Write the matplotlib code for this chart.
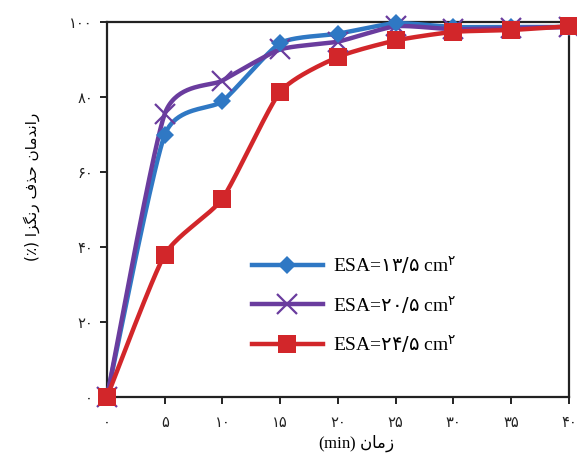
import numpy as np
import matplotlib
matplotlib.use("Agg")
import matplotlib.pyplot as plt
from matplotlib.lines import Line2D

# ---- data ----
time_min = [0, 5, 10, 15, 20, 25, 30, 35, 40]
esa_13_5 = [0, 70, 79, 94.5, 97, 99.8, 98.8, 98.8, 98.8]
esa_20_5 = [0, 75.6, 84.5, 92.8, 94.9, 99, 98.2, 98.5, 98.8]
esa_24_5 = [0, 38, 53, 81.5, 90.8, 95.2, 97.5, 98, 99]

x_ticks = [0, 5, 10, 15, 20, 25, 30, 35, 40]
y_ticks = [0, 20, 40, 60, 80, 100]

series_areas = ["۱۳/۵", "۲۰/۵", "۲۴/۵"]

# ---- minimal Persian shaping (presentation forms) ----
FORMS = {  # isolated, final, initial, medial
    "ا": ("\uFE8D", "\uFE8E", None, None),
    "د": ("\uFEA9", "\uFEAA", None, None),
    "ذ": ("\uFEAB", "\uFEAC", None, None),
    "ر": ("\uFEAD", "\uFEAE", None, None),
    "ز": ("\uFEAF", "\uFEB0", None, None),
    "ح": ("\uFEA1", "\uFEA2", "\uFEA3", "\uFEA4"),
    "ف": ("\uFED1", "\uFED2", "\uFED3", "\uFED4"),
    "م": ("\uFEE1", "\uFEE2", "\uFEE3", "\uFEE4"),
    "ن": ("\uFEE5", "\uFEE6", "\uFEE7", "\uFEE8"),
    "گ": ("\uFB92", "\uFB93", "\uFB94", "\uFB95"),
}


def shape_rtl(text):
    out = []
    chars = list(text)
    for i, c in enumerate(chars):
        if c not in FORMS:
            out.append(c)
            continue
        prev = chars[i - 1] if i > 0 else None
        nxt = chars[i + 1] if i + 1 < len(chars) else None
        joins_prev = prev in FORMS and FORMS[prev][2] is not None
        joins_next = nxt in FORMS and FORMS[c][2] is not None
        iso, fin, ini, med = FORMS[c]
        if joins_prev and joins_next:
            out.append(med)
        elif joins_prev:
            out.append(fin)
        elif joins_next:
            out.append(ini)
        else:
            out.append(iso)
    return "".join(reversed(out))


def fa_digits(n):
    return str(n).translate(str.maketrans("0123456789", "۰۱۲۳۴۵۶۷۸۹"))


def smooth(x, y, k=0.1, n=40):
    """Cubic Bezier segments through the points (smoothed line)."""
    p = np.column_stack([x, y]).astype(float)
    p_ext = np.vstack([p[0], p, p[-1]])
    t = np.linspace(0, 1, n)[:, None]
    pts = []
    for i in range(1, len(p_ext) - 2):
        p0, p1, p2, p3 = p_ext[i - 1], p_ext[i], p_ext[i + 1], p_ext[i + 2]
        c1 = p1 + (p2 - p0) * k
        c2 = p2 - (p3 - p1) * k
        seg = (1 - t) ** 3 * p1 + 3 * (1 - t) ** 2 * t * c1 \
            + 3 * (1 - t) * t ** 2 * c2 + t ** 3 * p2
        pts.append(seg if i == 1 else seg[1:])
    pts = np.vstack(pts)
    return pts[:, 0], pts[:, 1]


plt.rcParams["font.family"] = ["DejaVu Sans"]
plt.rcParams["mathtext.fontset"] = "custom"
plt.rcParams["mathtext.rm"] = "Liberation Serif"
plt.rcParams["mathtext.it"] = "Liberation Serif"
plt.rcParams["mathtext.sf"] = "DejaVu Sans"

fig = plt.figure(figsize=(5.77, 4.61), dpi=100)
ax = fig.add_axes([0.1854, 0.1388, 0.8007, 0.8124])

blue = "#2F78C4"
purple = "#6A3C9E"
red = "#D2262A"

styles = [
    (esa_13_5, blue, dict(marker="D", markersize=9.5, markeredgewidth=0), 5),
    (esa_20_5, purple, dict(marker="x", markersize=14, markeredgewidth=1.6), 4),
    (esa_24_5, red, dict(marker="s", markersize=13, markeredgewidth=0), 6),
]

handles = []
for vals, col, mk, z in styles:
    sx, sy = smooth(time_min, vals)
    ax.plot(sx, sy, color=col, lw=3.2, clip_on=False, solid_capstyle="round", zorder=3)
    ax.plot(time_min, vals, linestyle="none", color=col, clip_on=False, zorder=z, **mk)
    handles.append(Line2D([], [], color=col, lw=3.2, **mk))

ax.set_xlim(0, 40)
ax.set_ylim(0, 100)
ax.set_xticks(x_ticks)
ax.set_yticks(y_ticks)
ax.set_xticklabels([fa_digits(v) for v in x_ticks], fontsize=10.5)
ax.set_yticklabels([fa_digits(v) for v in y_ticks], fontsize=10.5)
ax.tick_params(direction="out", length=5, width=1.4, colors="#222222")
ax.tick_params(axis="x", pad=8)
ax.tick_params(axis="y", pad=5)
for s in ax.spines.values():
    s.set_linewidth(1.6)
    s.set_color("#222222")

ax.set_xlabel(r"(min) $\mathsf{" + shape_rtl("زمان") + "}$",
              fontsize=12, family="Liberation Serif")
ax.xaxis.set_label_coords(0.539, -0.098)
ax.set_ylabel("(٪) " + shape_rtl("راندمان حذف رنگزا"), fontsize=11)
ax.yaxis.set_label_coords(-0.145, 0.56)

legend_labels = [r"ESA=$\mathsf{" + a + r"}$ cm$^{\mathsf{۲}}$" for a in series_areas]
ax.legend(handles, legend_labels, loc="upper left", bbox_to_anchor=(0.275, 0.428),
          frameon=False, handlelength=3.7, labelspacing=0.9, handletextpad=0.5,
          prop={"family": "Liberation Serif", "size": 14})

fig.savefig("out.png", dpi=100)
